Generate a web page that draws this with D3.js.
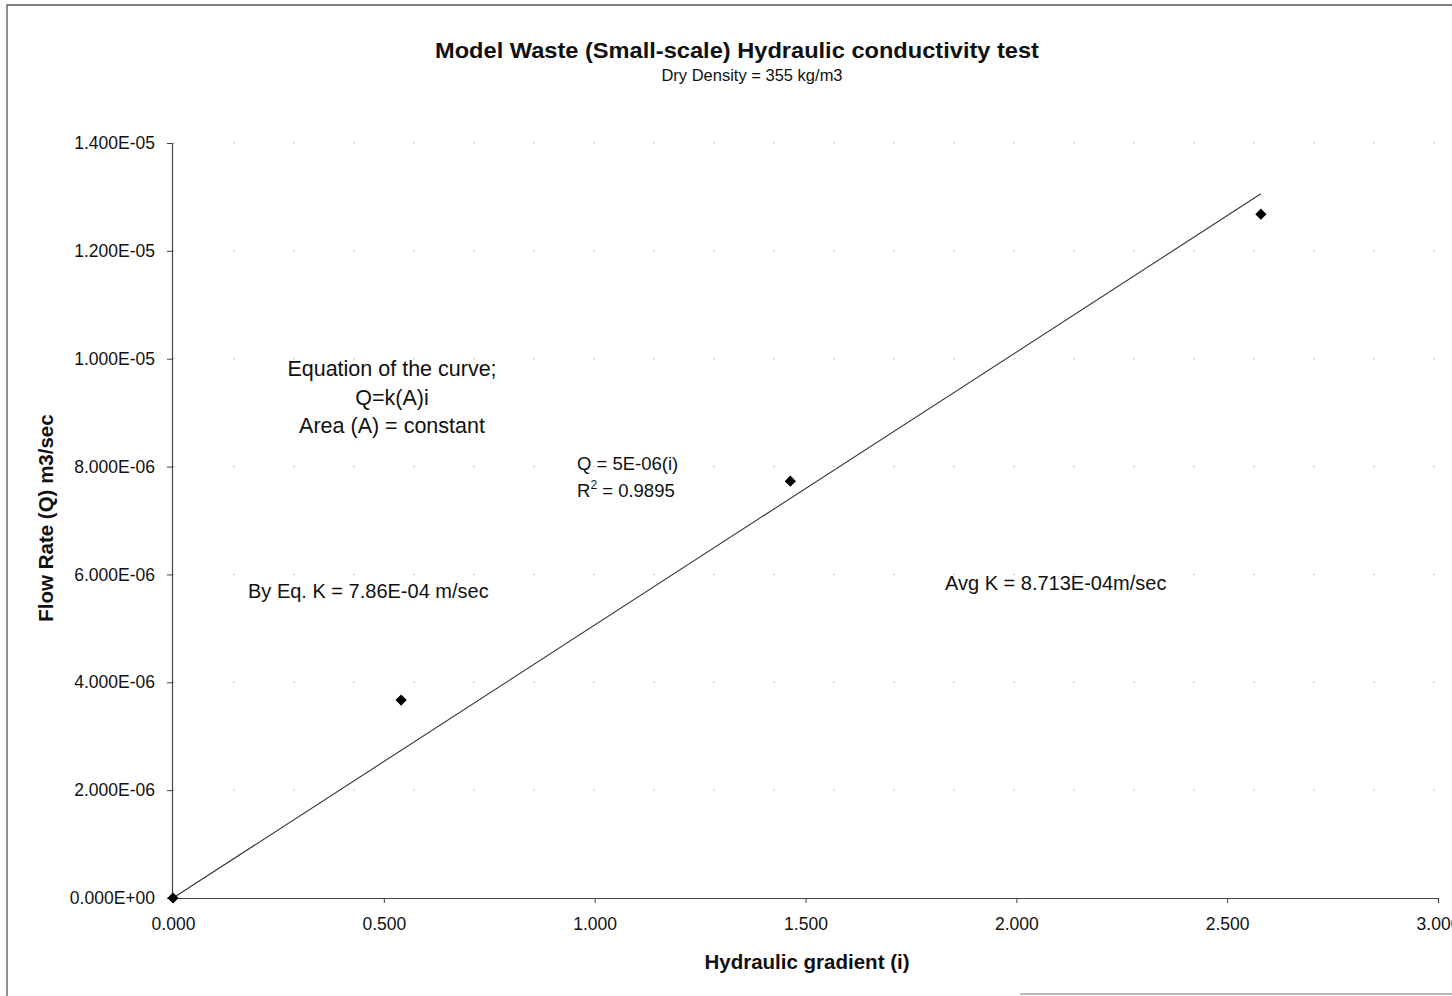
<!DOCTYPE html>
<html>
<head>
<meta charset="utf-8">
<script src="https://cdn.jsdelivr.net/npm/d3@7"></script>
<style>
  html, body { margin: 0; padding: 0; background: #fff; }
  svg { display: block; font-family: "Liberation Sans", Arial, sans-serif; }
</style>
</head>
<body>
<svg id="chart" width="1452" height="996"></svg>
<script>
// Hydraulic gradient (i) and measured flow rate (Q, m3/sec)
const gradient = [0.000, 0.541, 1.464, 2.580];
const flowRate = [0.0, 3.67e-6, 7.73e-6, 1.268e-5];

const xTicks = [0, 0.5, 1.0, 1.5, 2.0, 2.5, 3.0];
const yTicks = [0, 2e-6, 4e-6, 6e-6, 8e-6, 1e-5, 1.2e-5, 1.4e-5];

const titleText = "Model Waste (Small-scale) Hydraulic conductivity test";
const subtitleText = "Dry Density = 355 kg/m3";
const xLabel = "Hydraulic gradient (i)";
const yLabel = "Flow Rate (Q) m3/sec";
const noteLines = ["Equation of the curve;", "Q=k(A)i", "Area (A) = constant"];
const trendEq = "Q = 5E-06(i)";
const rSquared = "0.9895";
const eqK = "By Eq. K = 7.86E-04 m/sec";
const avgK = "Avg K = 8.713E-04m/sec";

const svg = d3.select("#chart");

const x = d3.scaleLinear().domain([0, 3]).range([173, 1438]);
const y = d3.scaleLinear().domain([0, 1.4e-5]).range([898, 143]);

// outer frame
svg.append("path")
  .attr("d", "M7,996 L7,5 L1452,5")
  .attr("fill", "none").attr("stroke", "#555").attr("stroke-width", 1.3);
svg.append("line")
  .attr("x1", 1020).attr("x2", 1452).attr("y1", 994).attr("y2", 994)
  .attr("stroke", "#777").attr("stroke-width", 1.2);

// faint horizontal gridlines
svg.append("g").selectAll("line")
  .data(yTicks.slice(1))
  .join("line")
  .attr("x1", x(0)).attr("x2", x(3))
  .attr("y1", d => y(d)).attr("y2", d => y(d))
  .attr("stroke", "#c4c4c4").attr("stroke-width", 1)
  .attr("stroke-dasharray", "2 58");

// format like 1.400E-05
const sciFmt = v => {
  if (v === 0) return "0.000E+00";
  const e = Math.floor(Math.log10(Math.abs(v)) + 1e-9);
  const m = v / Math.pow(10, e);
  const sign = e < 0 ? "-" : "+";
  return m.toFixed(3) + "E" + sign + String(Math.abs(e)).padStart(2, "0");
};

const yAxis = d3.axisLeft(y).tickValues(yTicks).tickFormat(sciFmt).tickSize(5).tickPadding(12);
const gy = svg.append("g").attr("transform", `translate(${x(0) - 1},0)`).call(yAxis);
gy.attr("font-size", null).attr("font-family", null);
gy.select(".domain").attr("stroke", "#444").attr("stroke-width", 1.2);
gy.selectAll(".tick line").attr("stroke", "#444");
gy.selectAll("text").attr("font-size", 17.5).attr("fill", "#111");

const xAxis = d3.axisBottom(x).tickValues(xTicks).tickFormat(d3.format(".3f")).tickSize(5).tickPadding(15);
const gx = svg.append("g").attr("transform", `translate(0,${y(0)})`).call(xAxis);
gx.attr("font-size", null).attr("font-family", null);
gx.select(".domain").attr("stroke", "#444").attr("stroke-width", 1.2);
gx.selectAll(".tick line").attr("stroke", "#444");
gx.selectAll("text").attr("font-size", 17.5).attr("fill", "#111");

// linear trendline through the origin (least squares)
const sxy = d3.sum(gradient, (g, i) => g * flowRate[i]);
const sxx = d3.sum(gradient, g => g * g);
const slope = sxy / sxx;
const xMax = d3.max(gradient);
svg.append("path")
  .datum([0, xMax])
  .attr("d", d3.line().x(d => x(d)).y(d => y(slope * d)))
  .attr("fill", "none").attr("stroke", "#333").attr("stroke-width", 1.1);

// measured points
svg.append("g").selectAll("path")
  .data(gradient.map((g, i) => [g, flowRate[i]]))
  .join("path")
  .attr("transform", d => `translate(${x(d[0])},${y(d[1])})`)
  .attr("d", d3.symbol(d3.symbolDiamond2, 80))
  .attr("fill", "#000");

// titles
svg.append("text").attr("x", 737).attr("y", 58).attr("text-anchor", "middle")
  .attr("font-size", 22.5).attr("font-weight", "bold").attr("fill", "#111")
  .attr("textLength", 604).attr("lengthAdjust", "spacingAndGlyphs")
  .text(titleText);
svg.append("text").attr("x", 752).attr("y", 81).attr("text-anchor", "middle")
  .attr("font-size", 16.5).attr("fill", "#111")
  .text(subtitleText);

// axis titles
svg.append("text").attr("x", 807).attr("y", 969).attr("text-anchor", "middle")
  .attr("font-size", 20.5).attr("font-weight", "bold").attr("fill", "#111")
  .text(xLabel);
svg.append("text").attr("transform", "translate(53,518) rotate(-90)").attr("text-anchor", "middle")
  .attr("font-size", 20.5).attr("font-weight", "bold").attr("fill", "#111")
  .text(yLabel);

// notes
svg.append("g").selectAll("text")
  .data(noteLines)
  .join("text")
  .attr("x", 392).attr("y", (d, i) => 376 + i * 28.5)
  .attr("text-anchor", "middle").attr("font-size", 21.5).attr("fill", "#111")
  .text(d => d);

svg.append("text").attr("x", 577).attr("y", 470).attr("font-size", 18.5).attr("fill", "#111").text(trendEq);
const r2 = svg.append("text").attr("x", 577).attr("y", 497).attr("font-size", 18.5).attr("fill", "#111");
r2.append("tspan").text("R");
r2.append("tspan").attr("font-size", 12).attr("dy", -8).text("2");
r2.append("tspan").attr("dy", 8).text(" = " + rSquared);

svg.append("text").attr("x", 248).attr("y", 598).attr("font-size", 20).attr("fill", "#111").text(eqK);
svg.append("text").attr("x", 945).attr("y", 590).attr("font-size", 20).attr("fill", "#111").text(avgK);
</script>
</body>
</html>
